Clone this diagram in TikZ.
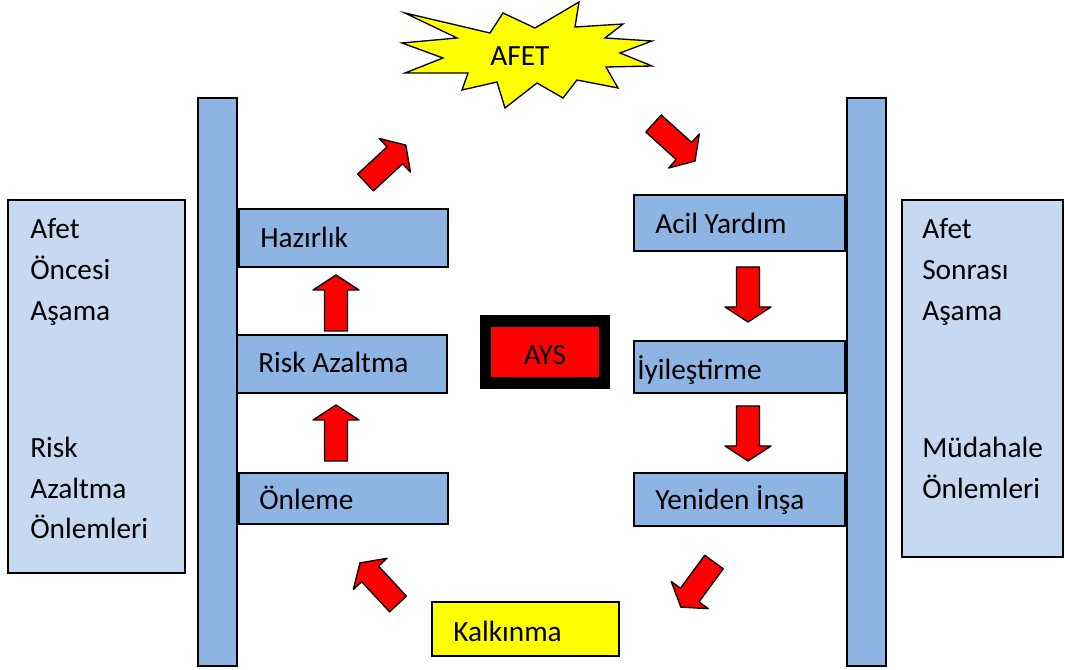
\documentclass[tikz,border=0pt]{standalone}
\usepackage{fontspec}
\setmainfont{Carlito}
\definecolor{barblue}{RGB}{142,180,227}
\definecolor{paleblue}{RGB}{198,217,241}
\definecolor{ared}{RGB}{255,0,0}
\definecolor{ayellow}{RGB}{255,255,0}
\tikzset{
  bar/.style={draw=black, line width=1pt, fill=barblue},
  outerbox/.style={draw=black, line width=1pt, fill=paleblue},
  stagebox/.style={draw=black, line width=1.2pt, fill=barblue},
  txt/.style={anchor=west, inner sep=0pt, text height=1.6ex, text depth=.35ex, font=\fontsize{22}{26}\selectfont},
  redarr/.style={draw=black, line width=1pt, fill=ared, line join=round},
}
\newcommand{\blockarr}[3]{%
  \begin{scope}[shift={(#1)}, rotate=#2]
    \draw[redarr] (0,-11.5) -- ({#3-15},-11.5) -- ({#3-15},-23) -- (#3,0) -- ({#3-15},23) -- ({#3-15},11.5) -- (0,11.5) -- cycle;
  \end{scope}}
\begin{document}
\begin{tikzpicture}[x=0.75pt,y=-0.75pt]
\useasboundingbox (0,0) rectangle (1065,670);
\fill[white] (0,0) rectangle (1065,670);

% outer phase boxes
\draw[outerbox] (8,200) rectangle (185,573);
\draw[outerbox] (902,200) rectangle (1063,557);
\node[txt] (l1) at (30,235) {Afet};
\node[txt] (l2) at (30,276) {Öncesi};
\node[txt] (l3) at (30,317) {Aşama};
\node[txt] (l4) at (30,454) {Risk};
\node[txt] (l5) at (30,495) {Azaltma};
\node[txt] (l6) at (30,535) {Önlemleri};
\node[txt] (r1) at (922,235) {Afet};
\node[txt] (r2) at (922,276) {Sonrası};
\node[txt] (r3) at (922,317) {Aşama};
\node[txt] (r4) at (922,454) {Müdahale};
\node[txt] (r5) at (922,495) {Önlemleri};

% vertical bars
\draw[bar] (198,98) rectangle (237,666);
\draw[bar] (847,98) rectangle (886,666);

% stage boxes
\draw[stagebox] (239,209) rectangle (448,267);
\node[txt] (haz) at (260,244) {Hazırlık};
\draw[stagebox] (237,335) rectangle (447,393);
\node[txt] (risk) at (258,369) {Risk Azaltma};
\draw[stagebox] (239,473) rectangle (448,524);
\node[txt] (onl) at (259,506) {Önleme};
\draw[stagebox] (634,195) rectangle (845,251);
\node[txt] (acil) at (655,230) {Acil Yardım};
\draw[stagebox] (634,341) rectangle (845,393);
\node[txt] (iyi) at (637,376) {İyileştirme};
\draw[stagebox] (634,473) rectangle (845,526);
\node[txt] (yen) at (655,506) {Yeniden İnşa};

% AYS
\fill[black] (480,315) rectangle (610,389);
\fill[ared] (491,327) rectangle (599,377);
\node[font=\fontsize{22}{26}\selectfont] (ays) at (545,355) {AYS};

% Kalkınma
\draw[draw=black, line width=1.2pt, fill=ayellow] (432,602) rectangle (619,656);
\node[txt] (kalk) at (453,638) {Kalkınma};

% AFET star
\draw[draw=black, line width=1pt, fill=ayellow, line join=miter]
 (405,13) -- (490,33) -- (503,13) -- (535,28) -- (579,2) -- (575,27) -- (623,24) -- (605,38)
 -- (652,41) -- (620,53) -- (652,66) -- (606,67) -- (618,88) -- (577,80) -- (563,98) -- (537,83)
 -- (505,108) -- (497,82) -- (462,90) -- (468,73) -- (405,73) -- (443,58) -- (402,43) -- (457,38) -- cycle;
\node[font=\fontsize{22}{26}\selectfont] (afet) at (520,56) {AFET};

% arrows
\coordinate (a1) at (336,331);
\coordinate (a2) at (336,461);
\coordinate (a3) at (748,267);
\coordinate (a4) at (748,406);
\coordinate (a5) at (365.5,182.5);
\coordinate (a6) at (653.5,123.5);
\coordinate (a7) at (714,562);
\coordinate (a8) at (398,604);
\blockarr{a1}{90}{56}
\blockarr{a2}{90}{56}
\blockarr{a3}{-90}{55}
\blockarr{a4}{-90}{55}
\blockarr{a5}{42.8}{55}
\blockarr{a6}{-42.1}{56}
\blockarr{a7}{-126.3}{56}
\blockarr{a8}{132.8}{56}
\end{tikzpicture}
\end{document}
